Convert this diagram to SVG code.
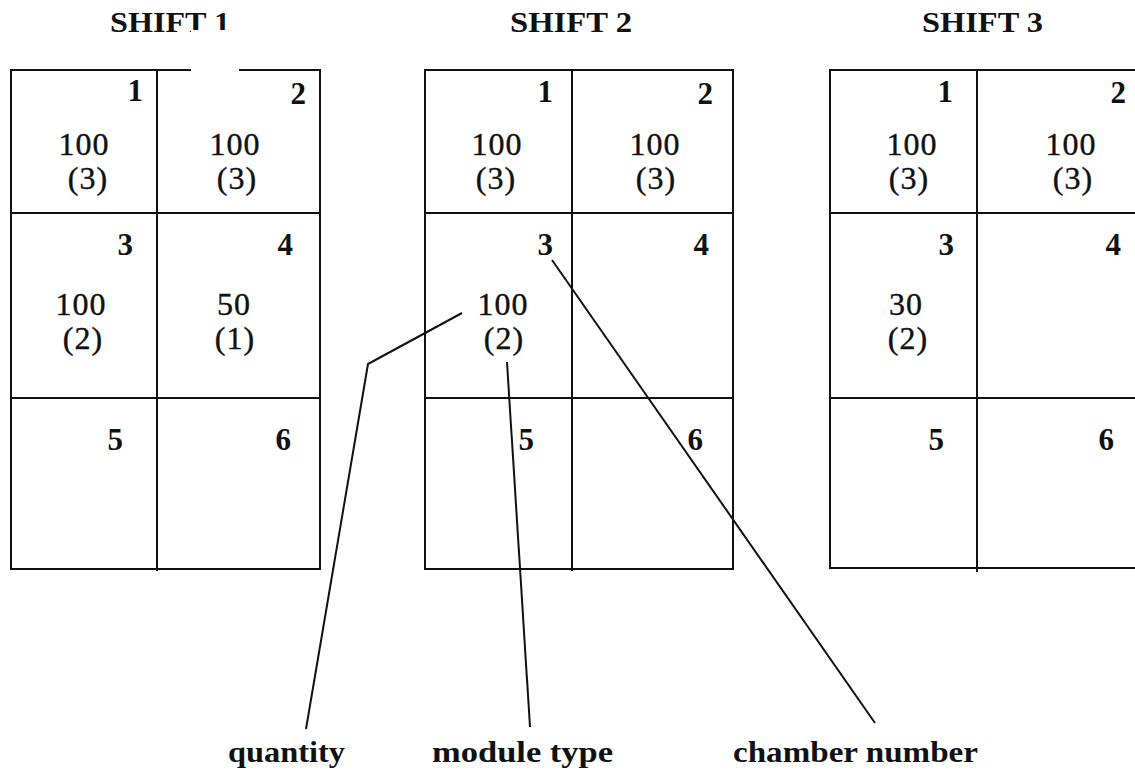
<svg xmlns="http://www.w3.org/2000/svg" width="1135" height="771" viewBox="0 0 1135 771">
<style>
.bx{fill:none;stroke:#111;stroke-width:2}
.ln{stroke:#111;stroke-width:2;fill:none}
.hd{font-family:"Liberation Serif",serif;font-weight:bold;font-size:30px;fill:#111}
.cn{font-family:"Liberation Serif",serif;font-weight:bold;font-size:31px;fill:#111;text-anchor:end}
.q{font-family:"Liberation Serif",serif;font-size:32px;letter-spacing:1px;fill:#111;stroke:#111;stroke-width:0.4;text-anchor:middle}
.lb{font-family:"Liberation Serif",serif;font-weight:bold;font-size:30px;fill:#111}
</style>
<rect width="1135" height="771" fill="#fff"/>
<g id="shift1">
<text class="hd" x="110" y="32" textLength="120" lengthAdjust="spacingAndGlyphs">SHIFT 1</text>
<rect class="bx" x="11" y="70" width="309" height="499"/>
<line class="ln" x1="157" y1="70" x2="157" y2="571"/>
<line class="ln" x1="11" y1="213" x2="320" y2="213"/>
<line class="ln" x1="11" y1="398" x2="320" y2="398"/>
<rect x="191" y="30" width="48" height="43" fill="#fff"/>
<text class="cn" x="143" y="101">1</text>
<text class="cn" x="306" y="104">2</text>
<text class="q" x="84" y="155">100</text>
<text class="q" x="88" y="189">(3)</text>
<text class="q" x="235" y="155">100</text>
<text class="q" x="237" y="189">(3)</text>
<text class="cn" x="133" y="255">3</text>
<text class="cn" x="293" y="255">4</text>
<text class="q" x="81" y="315">100</text>
<text class="q" x="83" y="349">(2)</text>
<text class="q" x="234" y="315">50</text>
<text class="q" x="235" y="349">(1)</text>
<text class="cn" x="123" y="450">5</text>
<text class="cn" x="291" y="450">6</text>
</g>
<g id="shift2">
<text class="hd" x="510" y="32" textLength="122" lengthAdjust="spacingAndGlyphs">SHIFT 2</text>
<rect class="bx" x="425" y="70" width="308" height="499"/>
<line class="ln" x1="572" y1="70" x2="572" y2="571"/>
<line class="ln" x1="425" y1="213" x2="733" y2="213"/>
<line class="ln" x1="425" y1="398" x2="733" y2="398"/>
<text class="cn" x="553" y="102">1</text>
<text class="cn" x="713" y="104">2</text>
<text class="q" x="497" y="155">100</text>
<text class="q" x="496" y="189">(3)</text>
<text class="q" x="655" y="155">100</text>
<text class="q" x="656" y="189">(3)</text>
<text class="cn" x="553" y="255">3</text>
<text class="cn" x="709" y="255">4</text>
<text class="q" x="503" y="315">100</text>
<text class="q" x="504" y="349">(2)</text>
<text class="cn" x="534" y="450">5</text>
<text class="cn" x="703" y="450">6</text>
</g>
<g id="shift3">
<text class="hd" x="922" y="32" textLength="121" lengthAdjust="spacingAndGlyphs">SHIFT 3</text>
<line class="ln" x1="830" y1="69" x2="830" y2="569"/>
<line class="ln" x1="829" y1="70" x2="1135" y2="70"/>
<line class="ln" x1="829" y1="568" x2="1135" y2="568"/>
<line class="ln" x1="977" y1="70" x2="977" y2="572"/>
<line class="ln" x1="830" y1="213" x2="1135" y2="213"/>
<line class="ln" x1="830" y1="398" x2="1135" y2="398"/>
<text class="cn" x="953" y="102">1</text>
<text class="cn" x="1126" y="103">2</text>
<text class="q" x="912" y="155">100</text>
<text class="q" x="909" y="189">(3)</text>
<text class="q" x="1071" y="155">100</text>
<text class="q" x="1073" y="189">(3)</text>
<text class="cn" x="954" y="255">3</text>
<text class="cn" x="1121" y="255">4</text>
<text class="q" x="906" y="315">30</text>
<text class="q" x="908" y="349">(2)</text>
<text class="cn" x="944" y="450">5</text>
<text class="cn" x="1114" y="450">6</text>
</g>
<g id="connectors">
<polyline class="ln" points="462,313 368,364 306,729"/>
<line class="ln" x1="507" y1="362" x2="530" y2="727"/>
<line class="ln" x1="552" y1="260" x2="875" y2="723"/>
</g>
<g id="labels">
<text class="lb" x="228" y="762" textLength="117" lengthAdjust="spacingAndGlyphs">quantity</text>
<text class="lb" x="432" y="762" textLength="181" lengthAdjust="spacingAndGlyphs">module type</text>
<text class="lb" x="733" y="762" textLength="245" lengthAdjust="spacingAndGlyphs">chamber number</text>
</g>
</svg>
